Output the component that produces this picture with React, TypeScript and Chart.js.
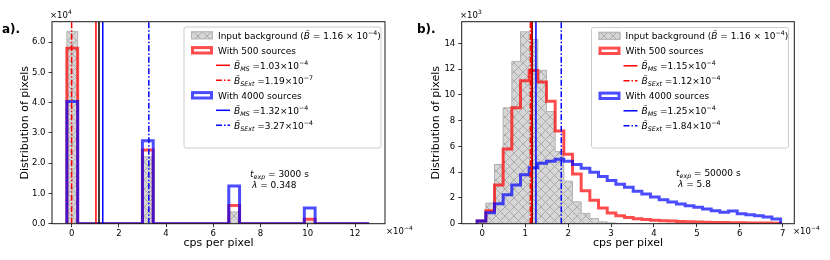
import React, { useEffect, useRef } from "react";
import { Chart, registerables } from "chart.js";

Chart.register(...registerables);

// ---------------- data: panel a (t_exp = 3000 s) ----------------
// histogram bins in units of 1e-4 cps per pixel, counts in units of 1e4 pixels
const A_BIN_START = -0.2;
const A_BIN_WIDTH = 0.457;
const A_INPUT = [6.36, 0, 0, 0, 0, 0, 0, 2.21, 0, 0, 0, 0, 0, 0, 0, 0.39, 0, 0, 0, 0, 0, 0, 0.05, 0, 0, 0, 0, 0];
const A_SRC500 = [5.8, 0, 0, 0, 0, 0, 0, 2.44, 0, 0, 0, 0, 0, 0, 0, 0.6, 0, 0, 0, 0, 0, 0, 0.15, 0, 0, 0, 0, 0];
const A_SRC4000 = [4.04, 0, 0, 0, 0, 0, 0, 2.74, 0, 0, 0, 0, 0, 0, 0, 1.25, 0, 0, 0, 0, 0, 0, 0.52, 0, 0, 0, 0, 0];
const A_X_TICKS = [0, 2, 4, 6, 8, 10, 12];
const A_Y_TICKS = [0, 1, 2, 3, 4, 5, 6];
// vertical lines: input, MS500, SExt500, MS4000, SExt4000
const A_VLINES = [1.16, 1.03, 0.00119, 1.32, 3.27];
const A_LEGEND_MANT = ["1.16", "1.03", "1.19", "1.32", "3.27"];
const A_LEGEND_EXP = ["\u22124", "\u22124", "\u22127", "\u22124", "\u22124"];
const A_TEXP = "3000";
const A_LAMBDA = "0.348";

// ---------------- data: panel b (t_exp = 50000 s) ----------------
// counts in units of 1e3 pixels
const B_BIN_START = -0.12;
const B_BIN_WIDTH = 0.202;
const B_INPUT = [0.27, 1.6, 4.6, 9.0, 12.6, 14.9, 14.3, 11.9, 8.7, 5.6, 3.3, 1.7, 0.8, 0.4, 0.15, 0.06,
  0, 0, 0, 0, 0, 0, 0, 0, 0, 0, 0, 0, 0, 0, 0, 0, 0, 0, 0];
const B_SRC500 = [0.2, 1.0, 3.0, 5.8, 9.0, 11.1, 11.9, 11.0, 9.5, 7.2, 5.4, 3.85, 2.55, 1.82, 1.21, 0.83, 0.62,
  0.49, 0.39, 0.32, 0.27, 0.23, 0.2, 0.17, 0.15, 0.13, 0.12, 0.1, 0.09, 0.08, 0.07, 0.06, 0.05, 0.05, 0.04];
const B_SRC4000 = [0.2, 0.85, 1.55, 2.25, 3.0, 3.8, 4.35, 4.7, 4.85, 5.0, 4.85, 4.6, 4.3, 4.0, 3.67, 3.36, 3.07,
  2.82, 2.51, 2.3, 2.07, 1.86, 1.68, 1.52, 1.39, 1.27, 1.14, 1.0, 0.88, 0.98, 0.78, 0.7, 0.62, 0.52, 0.36];
const B_X_TICKS = [0, 1, 2, 3, 4, 5, 6, 7];
const B_Y_TICKS = [0, 2, 4, 6, 8, 10, 12, 14];
const B_VLINES = [1.16, 1.15, 1.12, 1.25, 1.84];
const B_LEGEND_MANT = ["1.16", "1.15", "1.12", "1.25", "1.84"];
const B_LEGEND_EXP = ["\u22124", "\u22124", "\u22124", "\u22124", "\u22124"];
const B_TEXP = "50000";
const B_LAMBDA = "5.8";

const SOURCE_COUNTS = ["500", "4000"];

// ---------------- styles ----------------
const FAMILY = '"DejaVu Sans", sans-serif';
const RED = "rgba(255,0,0,0.7)";
const BLUE = "rgba(0,0,255,0.7)";
const GRAY_FILL = "#d6d6d6";
const GRAY_HATCH = "#ababab";
const GRAY_EDGE = "#b2b2b2";
const DASHDOT = [6, 2, 1.5, 2];
const VLINE_STYLES = [
  { color: "#000000", dash: [] as number[] },
  { color: "#ff0000", dash: [] as number[] },
  { color: "#ff0000", dash: DASHDOT },
  { color: "#0000ff", dash: [] as number[] },
  { color: "#0000ff", dash: DASHDOT },
];

type Run = { t: string; it?: boolean; sub?: boolean; sup?: boolean; bold?: boolean };

type PanelSpec = {
  left: number;
  letter: string;
  binStart: number;
  binWidth: number;
  input: number[];
  s500: number[];
  s4000: number[];
  xMin: number;
  xMax: number;
  yMax: number;
  xTicks: number[];
  yTicks: number[];
  yDecimals: number;
  yExp: string;
  vlines: number[];
  mant: string[];
  exps: string[];
  texp: string;
  lambda: string;
  area: { left: number; right: number; top: number; bottom: number };
  legend: { x: number; y: number; w: number; h: number };
  annot: { x: number; y: number };
  yTitlePad: number;
  yOffsetX: number;
  xOffsetX: number;
};

const W = 415;
const H = 260;

const PANEL_A: PanelSpec = {
  left: 0,
  letter: "a).",
  binStart: A_BIN_START,
  binWidth: A_BIN_WIDTH,
  input: A_INPUT,
  s500: A_SRC500,
  s4000: A_SRC4000,
  xMin: -0.83,
  xMax: 13.27,
  yMax: 6.68,
  xTicks: A_X_TICKS,
  yTicks: A_Y_TICKS,
  yDecimals: 1,
  yExp: "4",
  vlines: A_VLINES,
  mant: A_LEGEND_MANT,
  exps: A_LEGEND_EXP,
  texp: A_TEXP,
  lambda: A_LAMBDA,
  area: { left: 52, right: 385, top: 21.7, bottom: 223.7 },
  legend: { x: 184, y: 27, w: 197, h: 121 },
  annot: { x: 250, y: 177 },
  yTitlePad: 18.4,
  yOffsetX: 50,
  xOffsetX: 386,
};

const PANEL_B: PanelSpec = {
  left: 415,
  letter: "b).",
  binStart: B_BIN_START,
  binWidth: B_BIN_WIDTH,
  input: B_INPUT,
  s500: B_SRC500,
  s4000: B_SRC4000,
  xMin: -0.48,
  xMax: 7.27,
  yMax: 15.68,
  xTicks: B_X_TICKS,
  yTicks: B_Y_TICKS,
  yDecimals: 0,
  yExp: "3",
  vlines: B_VLINES,
  mant: B_LEGEND_MANT,
  exps: B_LEGEND_EXP,
  texp: B_TEXP,
  lambda: B_LAMBDA,
  area: { left: 46.7, right: 379.3, top: 21.7, bottom: 223.7 },
  legend: { x: 176.5, y: 27.5, w: 197, h: 120.5 },
  annot: { x: 261, y: 176 },
  yTitlePad: 14.9,
  yOffsetX: 45,
  xOffsetX: 378,
};

function fontStr(size: number, it?: boolean, bold?: boolean) {
  return `${it ? "italic " : ""}${bold ? "bold " : ""}${size}px ${FAMILY}`;
}

function drawRuns(ctx: CanvasRenderingContext2D, x: number, y: number, runs: Run[], size: number) {
  let cx = x;
  ctx.textAlign = "left";
  ctx.textBaseline = "alphabetic";
  for (const r of runs) {
    const s = r.sub || r.sup ? size * 0.7 : size;
    const dy = r.sub ? size * 0.22 : r.sup ? -size * 0.42 : 0;
    ctx.font = fontStr(s, r.it, r.bold);
    ctx.fillText(r.t, cx, y + dy);
    cx += ctx.measureText(r.t).width;
  }
  return cx;
}

function makeHatch(ctx: CanvasRenderingContext2D): CanvasPattern | string {
  const n = 9;
  const c = document.createElement("canvas");
  c.width = n;
  c.height = n;
  const g = c.getContext("2d");
  if (!g) return GRAY_FILL;
  g.fillStyle = GRAY_FILL;
  g.fillRect(0, 0, n, n);
  g.strokeStyle = GRAY_HATCH;
  g.lineWidth = 1;
  g.beginPath();
  g.moveTo(-1, -1);
  g.lineTo(n + 1, n + 1);
  g.moveTo(n + 1, -1);
  g.lineTo(-1, n + 1);
  g.stroke();
  return ctx.createPattern(c, "repeat") || GRAY_FILL;
}

function stepPoints(start: number, width: number, vals: number[]) {
  const pts: { x: number; y: number }[] = [{ x: start, y: 0 }];
  vals.forEach((v, i) => pts.push({ x: start + i * width, y: v }));
  pts.push({ x: start + vals.length * width, y: 0 });
  return pts;
}

const btilde: Run = { t: "B\u0303", it: true };

function legendRows(p: PanelSpec) {
  const m = p.mant;
  const e = p.exps;
  return [
    { kind: "hatch", color: GRAY_EDGE, dash: [] as number[],
      runs: [{ t: "Input background (" }, btilde, { t: " = " + m[0] + " \u00d7 10" }, { t: e[0], sup: true }, { t: ")" }] as Run[] },
    { kind: "rect", color: RED, dash: [] as number[], runs: [{ t: `With ${SOURCE_COUNTS[0]} sources` }] as Run[] },
    { kind: "line", color: VLINE_STYLES[1].color, dash: VLINE_STYLES[1].dash,
      runs: [btilde, { t: "MS", it: true, sub: true }, { t: " =" + m[1] + "\u00d710" }, { t: e[1], sup: true }] as Run[] },
    { kind: "line", color: VLINE_STYLES[2].color, dash: VLINE_STYLES[2].dash,
      runs: [btilde, { t: "SExt", it: true, sub: true }, { t: " =" + m[2] + "\u00d710" }, { t: e[2], sup: true }] as Run[] },
    { kind: "rect", color: BLUE, dash: [] as number[], runs: [{ t: `With ${SOURCE_COUNTS[1]} sources` }] as Run[] },
    { kind: "line", color: VLINE_STYLES[3].color, dash: VLINE_STYLES[3].dash,
      runs: [btilde, { t: "MS", it: true, sub: true }, { t: " =" + m[3] + "\u00d710" }, { t: e[3], sup: true }] as Run[] },
    { kind: "line", color: VLINE_STYLES[4].color, dash: VLINE_STYLES[4].dash,
      runs: [btilde, { t: "SExt", it: true, sub: true }, { t: " =" + m[4] + "\u00d710" }, { t: e[4], sup: true }] as Run[] },
  ];
}

function buildConfig(p: PanelSpec, canvas: HTMLCanvasElement): any {
  const ctx0 = canvas.getContext("2d") as CanvasRenderingContext2D;
  const hatch = makeHatch(ctx0);
  const datasets: any[] = [];
  VLINE_STYLES.forEach((st, i) => {
    datasets.push({
      data: [{ x: p.vlines[i], y: 0 }, { x: p.vlines[i], y: p.yMax }],
      borderColor: st.color,
      borderWidth: 1.5,
      borderDash: st.dash,
      pointRadius: 0,
      fill: false,
      clip: 0,
      order: 4 - i,
    });
  });
  datasets.push({
    data: stepPoints(p.binStart, p.binWidth, p.s4000),
    borderColor: BLUE, borderWidth: 3, stepped: true, pointRadius: 0, fill: false,
    clip: 0, order: 10, borderJoinStyle: "miter",
  });
  datasets.push({
    data: stepPoints(p.binStart, p.binWidth, p.s500),
    borderColor: RED, borderWidth: 3, stepped: true, pointRadius: 0, fill: false,
    clip: 0, order: 11, borderJoinStyle: "miter",
  });
  datasets.push({
    data: stepPoints(p.binStart, p.binWidth, p.input),
    borderColor: GRAY_EDGE, borderWidth: 1, stepped: true, pointRadius: 0,
    backgroundColor: hatch, fill: "origin", clip: 0, order: 12, borderJoinStyle: "miter",
  });

  const rows = legendRows(p);

  const decor = {
    id: "decor",
    afterDatasetsDraw(chart: any) {
      const { ctx, chartArea: a } = chart;
      ctx.save();
      ctx.strokeStyle = "#1a1a1a";
      ctx.lineWidth = 1;
      ctx.strokeRect(a.left, a.top, a.right - a.left, a.bottom - a.top);
      ctx.restore();
    },
    afterDraw(chart: any) {
      const ctx: CanvasRenderingContext2D = chart.ctx;
      ctx.save();
      ctx.fillStyle = "#000";
      // panel letter
      drawRuns(ctx, 2, 33, [{ t: p.letter, bold: true }], 12);
      // y offset text
      drawRuns(ctx, p.yOffsetX, 18, [{ t: "\u00d710" }, { t: p.yExp, sup: true }], 8.5);
      // x offset text
      drawRuns(ctx, p.xOffsetX, 234, [{ t: "\u00d710" }, { t: "\u22124", sup: true }], 8.5);
      // annotation
      drawRuns(ctx, p.annot.x, p.annot.y, [{ t: "t", it: true }, { t: "exp", it: true, sub: true }, { t: " = " + p.texp + " s" }], 9);
      drawRuns(ctx, p.annot.x + 2, p.annot.y + 11, [{ t: "\u03bb", it: true }, { t: " = " + p.lambda }], 9);

      // legend
      const L = p.legend;
      const r = 2;
      ctx.beginPath();
      ctx.moveTo(L.x + r, L.y);
      ctx.lineTo(L.x + L.w - r, L.y);
      ctx.arcTo(L.x + L.w, L.y, L.x + L.w, L.y + r, r);
      ctx.lineTo(L.x + L.w, L.y + L.h - r);
      ctx.arcTo(L.x + L.w, L.y + L.h, L.x + L.w - r, L.y + L.h, r);
      ctx.lineTo(L.x + r, L.y + L.h);
      ctx.arcTo(L.x, L.y + L.h, L.x, L.y + L.h - r, r);
      ctx.lineTo(L.x, L.y + r);
      ctx.arcTo(L.x, L.y, L.x + r, L.y, r);
      ctx.closePath();
      ctx.fillStyle = "rgba(255,255,255,0.8)";
      ctx.fill();
      ctx.strokeStyle = "#cccccc";
      ctx.lineWidth = 1;
      ctx.stroke();

      rows.forEach((row, i) => {
        const cy = L.y + 8.3 + 15 * i;
        if (row.kind === "hatch") {
          ctx.fillStyle = hatch as any;
          ctx.fillRect(L.x + 7, cy - 4, 22, 8);
          ctx.strokeStyle = GRAY_EDGE;
          ctx.lineWidth = 1;
          ctx.strokeRect(L.x + 7.5, cy - 3.5, 21, 7);
        } else if (row.kind === "rect") {
          ctx.strokeStyle = row.color;
          ctx.lineWidth = 3;
          ctx.strokeRect(L.x + 8.5, cy - 2.7, 19, 5.4);
        } else {
          ctx.strokeStyle = row.color;
          ctx.lineWidth = 1.5;
          ctx.setLineDash(row.dash);
          ctx.beginPath();
          ctx.moveTo(L.x + 32, cy);
          ctx.lineTo(L.x + 46, cy);
          ctx.stroke();
          ctx.setLineDash([]);
        }
        ctx.fillStyle = "#000";
        drawRuns(ctx, row.kind === "line" ? L.x + 50 : L.x + 34, cy + 3.3, row.runs, 9);
      });
      ctx.restore();
    },
  };

  const tickFont = { family: FAMILY, size: 8.5 };
  const titleFont = { family: FAMILY, size: 11 };

  return {
    type: "line",
    data: { datasets },
    plugins: [decor],
    options: {
      animation: false,
      responsive: false,
      devicePixelRatio: 1,
      events: [],
      layout: { padding: { left: 0, top: p.area.top, right: W - p.area.right, bottom: 0 } },
      plugins: { legend: { display: false }, tooltip: { enabled: false }, title: { display: false } },
      scales: {
        x: {
          type: "linear",
          min: p.xMin,
          max: p.xMax,
          afterBuildTicks: (s: any) => {
            s.ticks = p.xTicks.map((v) => ({ value: v }));
          },
          afterFit: (s: any) => {
            s.height = H - p.area.bottom;
          },
          ticks: { font: tickFont, color: "#000", padding: 1, maxRotation: 0, autoSkip: false,
            callback: (v: any) => String(v) },
          grid: { display: true, drawOnChartArea: false, drawTicks: true, tickLength: 3.5, color: "#000", lineWidth: 0.8 },
          border: { display: false },
          title: { display: true, text: "cps per pixel", font: titleFont, color: "#000", padding: { top: 0, bottom: 10 } },
        },
        y: {
          type: "linear",
          min: 0,
          max: p.yMax,
          afterBuildTicks: (s: any) => {
            s.ticks = p.yTicks.map((v) => ({ value: v }));
          },
          afterFit: (s: any) => {
            s.width = p.area.left;
          },
          ticks: { font: tickFont, color: "#000", padding: 3, autoSkip: false,
            callback: (v: any) => Number(v).toFixed(p.yDecimals) },
          grid: { display: true, drawOnChartArea: false, drawTicks: true, tickLength: 3.5, color: "#000", lineWidth: 0.8 },
          border: { display: false },
          title: { display: true, text: "Distribution of pixels", font: titleFont, color: "#000", padding: { top: p.yTitlePad, bottom: 0 } },
        },
      },
    },
  };
}

function Panel({ spec }: { spec: PanelSpec }) {
  const ref = useRef<HTMLCanvasElement>(null);
  useEffect(() => {
    const canvas = ref.current;
    if (!canvas) return;
    const chart = new Chart(canvas, buildConfig(spec, canvas));
    return () => chart.destroy();
  }, [spec]);
  return (
    <canvas
      ref={ref}
      width={W}
      height={H}
      style={{ position: "absolute", left: spec.left, top: 0, width: W, height: H }}
    />
  );
}

export default function App() {
  return (
    <div style={{ position: "absolute", left: 0, top: 0, width: 830, height: 260, background: "#ffffff" }}>
      <Panel spec={PANEL_A} />
      <Panel spec={PANEL_B} />
    </div>
  );
}
